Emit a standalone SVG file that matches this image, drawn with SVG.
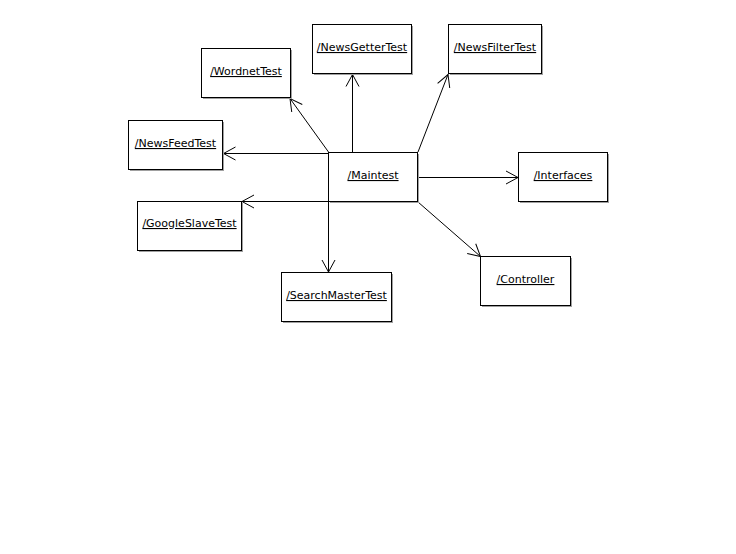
<svg xmlns="http://www.w3.org/2000/svg" width="736" height="554" viewBox="0 0 736 554">
  <style>
    .box { fill: #ffffff; stroke: #000000; stroke-width: 1; }
    .shadow { fill: #a0a0a0; }
    .label { font-family: "DejaVu Sans", Verdana, sans-serif; font-size: 11px; fill: #000000; text-anchor: middle; text-decoration: underline; }
    .edge { stroke: #000000; stroke-width: 1; fill: none; marker-end: url(#open); }
  </style>
  <defs>
    <marker id="open" markerUnits="userSpaceOnUse" markerWidth="16" markerHeight="16" viewBox="-14 -8 16 16" refX="0" refY="0" orient="auto">
      <path d="M-12,-6.5 L0,0 L-12,6.5" fill="none" stroke="#000000" stroke-width="1"/>
    </marker>
  </defs>
  <rect x="0" y="0" width="736" height="554" fill="#ffffff"/>

  <g id="connectors">
    <line class="edge" x1="352.5" y1="152" x2="352.5" y2="74.5"/>
    <line class="edge" x1="328.5" y1="152" x2="290" y2="98.5"/>
    <line class="edge" x1="328.5" y1="153.5" x2="223.5" y2="153.5"/>
    <line class="edge" x1="328.5" y1="201.5" x2="242" y2="201.5"/>
    <line class="edge" x1="328.5" y1="202" x2="328.5" y2="272"/>
    <line class="edge" x1="418" y1="152" x2="448" y2="74.5"/>
    <line class="edge" x1="418" y1="177.5" x2="518" y2="177.5"/>
    <line class="edge" x1="418" y1="202" x2="480.5" y2="256.5"/>
  </g>

  <g id="maintest">
    <rect class="shadow" x="330" y="154" width="89" height="49"/>
    <rect class="box" x="328.5" y="152.5" width="89" height="49"/>
    <text class="label" x="373" y="179">/Maintest</text>
  </g>
  <g id="newsgettertest">
    <rect class="shadow" x="314" y="26" width="99" height="49"/>
    <rect class="box" x="312.5" y="24.5" width="99" height="49"/>
    <text class="label" x="362" y="51">/NewsGetterTest</text>
  </g>
  <g id="newsfiltertest">
    <rect class="shadow" x="450" y="26" width="93" height="49"/>
    <rect class="box" x="448.5" y="24.5" width="93" height="49"/>
    <text class="label" x="495" y="51">/NewsFilterTest</text>
  </g>
  <g id="wordnettest">
    <rect class="shadow" x="203" y="50" width="89" height="49"/>
    <rect class="box" x="201.5" y="48.5" width="89" height="49"/>
    <text class="label" x="246" y="75">/WordnetTest</text>
  </g>
  <g id="newsfeedtest">
    <rect class="shadow" x="130" y="122" width="94" height="49"/>
    <rect class="box" x="128.5" y="120.5" width="94" height="49"/>
    <text class="label" x="175.5" y="147">/NewsFeedTest</text>
  </g>
  <g id="interfaces">
    <rect class="shadow" x="520" y="154" width="89" height="49"/>
    <rect class="box" x="518.5" y="152.5" width="89" height="49"/>
    <text class="label" x="563" y="179">/Interfaces</text>
  </g>
  <g id="googleslavetest">
    <rect class="shadow" x="139" y="203" width="104" height="49"/>
    <rect class="box" x="137.5" y="201.5" width="104" height="49"/>
    <text class="label" x="189.5" y="227">/GoogleSlaveTest</text>
  </g>
  <g id="searchmastertest">
    <rect class="shadow" x="283" y="274" width="110" height="49"/>
    <rect class="box" x="281.5" y="272.5" width="110" height="49"/>
    <text class="label" x="336.5" y="299">/SearchMasterTest</text>
  </g>
  <g id="controller">
    <rect class="shadow" x="482" y="258" width="90" height="49"/>
    <rect class="box" x="480.5" y="256.5" width="90" height="49"/>
    <text class="label" x="525.5" y="283">/Controller</text>
  </g>
</svg>
